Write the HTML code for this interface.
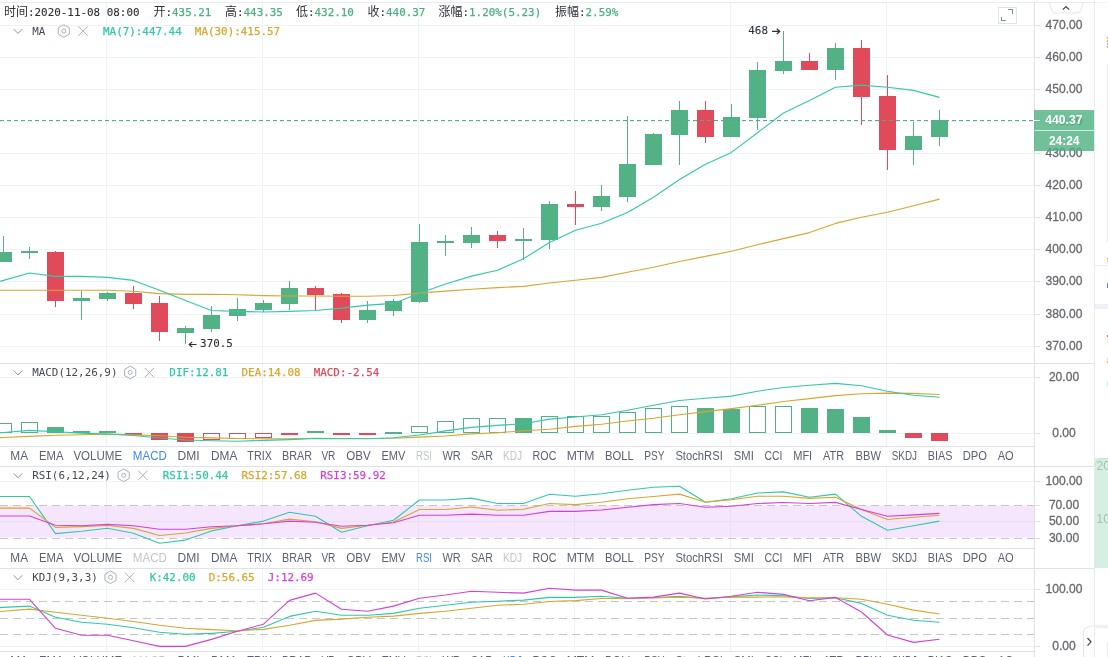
<!DOCTYPE html>
<html lang="zh-CN"><head><meta charset="utf-8"><title>K线图</title>
<style>html,body{margin:0;padding:0;background:#fff;overflow:hidden}body{width:1108px;height:657px;position:relative}svg{position:absolute;left:0;top:0;display:block}text{white-space:pre}.c{shape-rendering:crispEdges}</style></head><body>
<svg width="1108" height="657" viewBox="0 0 1108 657">
<rect width="1108" height="657" fill="#fff"/>
<g class="c">
<rect x="106" y="3" width="1" height="654" fill="#eef3f7"/>
<rect x="262" y="3" width="1" height="654" fill="#eef3f7"/>
<rect x="418" y="3" width="1" height="654" fill="#eef3f7"/>
<rect x="574" y="3" width="1" height="654" fill="#eef3f7"/>
<rect x="730" y="3" width="1" height="654" fill="#eef3f7"/>
<rect x="886" y="3" width="1" height="654" fill="#eef3f7"/>
<rect x="0" y="25" width="1034" height="1" fill="#eef3f7"/>
<rect x="0" y="57" width="1034" height="1" fill="#eef3f7"/>
<rect x="0" y="89" width="1034" height="1" fill="#eef3f7"/>
<rect x="0" y="121" width="1034" height="1" fill="#eef3f7"/>
<rect x="0" y="153" width="1034" height="1" fill="#eef3f7"/>
<rect x="0" y="185" width="1034" height="1" fill="#eef3f7"/>
<rect x="0" y="217" width="1034" height="1" fill="#eef3f7"/>
<rect x="0" y="249" width="1034" height="1" fill="#eef3f7"/>
<rect x="0" y="281" width="1034" height="1" fill="#eef3f7"/>
<rect x="0" y="314" width="1034" height="1" fill="#eef3f7"/>
<rect x="0" y="346" width="1034" height="1" fill="#eef3f7"/>
<rect x="0" y="377" width="1034" height="1" fill="#eef3f7"/>
<rect x="0" y="433" width="1034" height="1" fill="#eef3f7"/>
<rect x="0" y="481" width="1034" height="1" fill="#eef3f7"/>
<rect x="0" y="521" width="1034" height="1" fill="#eef3f7"/>
<rect x="0" y="589" width="1034" height="1" fill="#eef3f7"/>
<rect x="0" y="646" width="1034" height="1" fill="#eef3f7"/>
</g>
<rect x="0" y="505.5" width="1034" height="32" fill="#f5e6fd"/>
<g class="c"><rect x="0" y="521" width="1034" height="1" fill="#e9dff3"/>
<rect x="106" y="506" width="1" height="32" fill="#e6dff1"/>
<rect x="262" y="506" width="1" height="32" fill="#e6dff1"/>
<rect x="418" y="506" width="1" height="32" fill="#e6dff1"/>
<rect x="574" y="506" width="1" height="32" fill="#e6dff1"/>
<rect x="730" y="506" width="1" height="32" fill="#e6dff1"/>
<rect x="886" y="506" width="1" height="32" fill="#e6dff1"/>
</g>
<line x1="0" y1="505.5" x2="1034" y2="505.5" stroke="#c6c6ca" stroke-width="1" stroke-dasharray="8 5" class="c"/>
<line x1="0" y1="538.5" x2="1034" y2="538.5" stroke="#c6c6ca" stroke-width="1" stroke-dasharray="8 5" class="c"/>
<line x1="0" y1="601.5" x2="1034" y2="601.5" stroke="#c6c6ca" stroke-width="1" stroke-dasharray="8 5" class="c"/>
<line x1="0" y1="618.5" x2="1034" y2="618.5" stroke="#c6c6ca" stroke-width="1" stroke-dasharray="8 5" class="c"/>
<line x1="0" y1="634.5" x2="1034" y2="634.5" stroke="#c6c6ca" stroke-width="1" stroke-dasharray="8 5" class="c"/>
<g class="c">
<rect x="3" y="236" width="1" height="26" fill="#52b285"/>
<rect x="-5" y="252" width="17" height="10" fill="#52b285"/>
<rect x="29" y="247" width="1" height="12" fill="#52b285"/>
<rect x="21" y="251" width="17" height="2" fill="#52b285"/>
<rect x="55" y="251" width="1" height="56" fill="#e04a5a"/>
<rect x="47" y="252" width="17" height="49" fill="#e04a5a"/>
<rect x="81" y="291" width="1" height="29" fill="#52b285"/>
<rect x="73" y="298" width="17" height="3" fill="#52b285"/>
<rect x="107" y="292" width="1" height="9" fill="#52b285"/>
<rect x="99" y="293" width="17" height="6" fill="#52b285"/>
<rect x="133" y="286" width="1" height="23" fill="#e04a5a"/>
<rect x="125" y="293" width="17" height="11" fill="#e04a5a"/>
<rect x="159" y="296" width="1" height="45" fill="#e04a5a"/>
<rect x="151" y="303" width="17" height="29" fill="#e04a5a"/>
<rect x="185" y="326" width="1" height="18" fill="#52b285"/>
<rect x="177" y="328" width="17" height="5" fill="#52b285"/>
<rect x="211" y="306" width="1" height="26" fill="#52b285"/>
<rect x="203" y="315" width="17" height="14" fill="#52b285"/>
<rect x="237" y="298" width="1" height="23" fill="#52b285"/>
<rect x="229" y="309" width="17" height="7" fill="#52b285"/>
<rect x="263" y="300" width="1" height="12" fill="#52b285"/>
<rect x="255" y="303" width="17" height="7" fill="#52b285"/>
<rect x="289" y="281" width="1" height="29" fill="#52b285"/>
<rect x="281" y="288" width="17" height="16" fill="#52b285"/>
<rect x="315" y="286" width="1" height="25" fill="#e04a5a"/>
<rect x="307" y="288" width="17" height="7" fill="#e04a5a"/>
<rect x="341" y="293" width="1" height="30" fill="#e04a5a"/>
<rect x="333" y="294" width="17" height="26" fill="#e04a5a"/>
<rect x="367" y="301" width="1" height="22" fill="#52b285"/>
<rect x="359" y="310" width="17" height="10" fill="#52b285"/>
<rect x="393" y="299" width="1" height="17" fill="#52b285"/>
<rect x="385" y="301" width="17" height="10" fill="#52b285"/>
<rect x="419" y="224" width="1" height="79" fill="#52b285"/>
<rect x="411" y="242" width="17" height="60" fill="#52b285"/>
<rect x="445" y="235" width="1" height="21" fill="#52b285"/>
<rect x="437" y="241" width="17" height="2" fill="#52b285"/>
<rect x="471" y="227" width="1" height="21" fill="#52b285"/>
<rect x="463" y="235" width="17" height="8" fill="#52b285"/>
<rect x="497" y="231" width="1" height="17" fill="#e04a5a"/>
<rect x="489" y="235" width="17" height="6" fill="#e04a5a"/>
<rect x="523" y="228" width="1" height="32" fill="#52b285"/>
<rect x="515" y="239" width="17" height="2" fill="#52b285"/>
<rect x="549" y="201" width="1" height="48" fill="#52b285"/>
<rect x="541" y="204" width="17" height="36" fill="#52b285"/>
<rect x="575" y="191" width="1" height="34" fill="#e04a5a"/>
<rect x="567" y="204" width="17" height="3" fill="#e04a5a"/>
<rect x="601" y="185" width="1" height="26" fill="#52b285"/>
<rect x="593" y="196" width="17" height="11" fill="#52b285"/>
<rect x="627" y="116" width="1" height="86" fill="#52b285"/>
<rect x="619" y="164" width="17" height="33" fill="#52b285"/>
<rect x="653" y="133" width="1" height="32" fill="#52b285"/>
<rect x="645" y="134" width="17" height="31" fill="#52b285"/>
<rect x="679" y="101" width="1" height="64" fill="#52b285"/>
<rect x="671" y="110" width="17" height="25" fill="#52b285"/>
<rect x="705" y="101" width="1" height="42" fill="#e04a5a"/>
<rect x="697" y="110" width="17" height="27" fill="#e04a5a"/>
<rect x="731" y="104" width="1" height="33" fill="#52b285"/>
<rect x="723" y="117" width="17" height="20" fill="#52b285"/>
<rect x="757" y="62" width="1" height="68" fill="#52b285"/>
<rect x="749" y="70" width="17" height="48" fill="#52b285"/>
<rect x="783" y="31" width="1" height="43" fill="#52b285"/>
<rect x="775" y="61" width="17" height="10" fill="#52b285"/>
<rect x="809" y="53" width="1" height="17" fill="#e04a5a"/>
<rect x="801" y="61" width="17" height="9" fill="#e04a5a"/>
<rect x="835" y="43" width="1" height="37" fill="#52b285"/>
<rect x="827" y="48" width="17" height="22" fill="#52b285"/>
<rect x="861" y="40" width="1" height="85" fill="#e04a5a"/>
<rect x="853" y="48" width="17" height="49" fill="#e04a5a"/>
<rect x="887" y="75" width="1" height="95" fill="#e04a5a"/>
<rect x="879" y="96" width="17" height="54" fill="#e04a5a"/>
<rect x="913" y="122" width="1" height="43" fill="#52b285"/>
<rect x="905" y="136" width="17" height="14" fill="#52b285"/>
<rect x="939" y="110" width="1" height="36" fill="#52b285"/>
<rect x="931" y="120" width="17" height="17" fill="#52b285"/>
</g>
<polyline points="-22.5,290.3 3.5,290.3 29.5,290.3 55.5,290.3 81.5,290.3 107.5,290.3 133.5,291.3 159.5,293.6 185.5,294.4 211.5,294.2 237.5,294.8 263.5,295.6 289.5,296 315.5,296 341.5,296.2 367.5,296.2 393.5,295.5 419.5,293.1 445.5,291.1 471.5,289.2 497.5,287.6 523.5,286.4 549.5,283 575.5,280.3 601.5,277.4 627.5,272.3 653.5,267.3 679.5,261.5 705.5,256.4 731.5,251.2 757.5,244.7 783.5,238.6 809.5,232.6 835.5,223.4 861.5,217.3 887.5,212.3 913.5,205.8 939.5,199.1" fill="none" stroke="#d6a730" stroke-width="1.1" stroke-linejoin="round"/>
<polyline points="-22.5,287.8 3.5,280.4 29.5,273 55.5,276.4 81.5,276.4 107.5,277.4 133.5,280.4 159.5,290.3 185.5,300.5 211.5,310.5 237.5,311.4 263.5,312 289.5,311.4 315.5,310.5 341.5,308.1 367.5,305.1 393.5,303.4 419.5,293.3 445.5,284 471.5,276.1 497.5,270.2 523.5,258.7 549.5,242.5 575.5,230.2 601.5,223.2 627.5,212.5 653.5,197.3 679.5,179.5 705.5,164.2 731.5,152.4 757.5,132.8 783.5,113 809.5,100.5 835.5,87.3 861.5,85.1 887.5,87.3 913.5,90.4 939.5,97.4" fill="none" stroke="#30c9a7" stroke-width="1.1" stroke-linejoin="round"/>
<line x1="0" y1="120.5" x2="1040" y2="120.5" stroke="#4db081" stroke-width="1" stroke-dasharray="4 3" class="c"/>
<g class="c">
<rect x="-4.5" y="423.5" width="16" height="9" fill="none" stroke="#52b285" stroke-width="1"/>
<rect x="21.5" y="422.5" width="16" height="10" fill="none" stroke="#52b285" stroke-width="1"/>
<rect x="47" y="427" width="17" height="6" fill="#52b285"/>
<rect x="73" y="431" width="17" height="2" fill="#52b285"/>
<rect x="99" y="431" width="17" height="2" fill="#52b285"/>
<rect x="125" y="433" width="17" height="2" fill="#e04a5a"/>
<rect x="151" y="433" width="17" height="7" fill="#e04a5a"/>
<rect x="177" y="433" width="17" height="9" fill="#e04a5a"/>
<rect x="203.5" y="433.5" width="16" height="6" fill="none" stroke="#e04a5a" stroke-width="1"/>
<rect x="229.5" y="433.5" width="16" height="5" fill="none" stroke="#e04a5a" stroke-width="1"/>
<rect x="255.5" y="433.5" width="16" height="4" fill="none" stroke="#e04a5a" stroke-width="1"/>
<rect x="281" y="433" width="17" height="2" fill="#e04a5a"/>
<rect x="307" y="431" width="17" height="2" fill="#52b285"/>
<rect x="333" y="433" width="17" height="2" fill="#e04a5a"/>
<rect x="359" y="433" width="17" height="2" fill="#e04a5a"/>
<rect x="385" y="432" width="17" height="2" fill="#52b285"/>
<rect x="411.5" y="426.5" width="16" height="6" fill="none" stroke="#52b285" stroke-width="1"/>
<rect x="437.5" y="421.5" width="16" height="11" fill="none" stroke="#52b285" stroke-width="1"/>
<rect x="463.5" y="418.5" width="16" height="14" fill="none" stroke="#52b285" stroke-width="1"/>
<rect x="489.5" y="418.5" width="16" height="14" fill="none" stroke="#52b285" stroke-width="1"/>
<rect x="515" y="418" width="17" height="15" fill="#52b285"/>
<rect x="541.5" y="416.5" width="16" height="16" fill="none" stroke="#52b285" stroke-width="1"/>
<rect x="567.5" y="416.5" width="16" height="16" fill="none" stroke="#52b285" stroke-width="1"/>
<rect x="593.5" y="416.5" width="16" height="16" fill="none" stroke="#52b285" stroke-width="1"/>
<rect x="619.5" y="412.5" width="16" height="20" fill="none" stroke="#52b285" stroke-width="1"/>
<rect x="645.5" y="408.5" width="16" height="24" fill="none" stroke="#52b285" stroke-width="1"/>
<rect x="671.5" y="406.5" width="16" height="26" fill="none" stroke="#52b285" stroke-width="1"/>
<rect x="697" y="408" width="17" height="25" fill="#52b285"/>
<rect x="723" y="409" width="17" height="24" fill="#52b285"/>
<rect x="749.5" y="406.5" width="16" height="26" fill="none" stroke="#52b285" stroke-width="1"/>
<rect x="775.5" y="406.5" width="16" height="26" fill="none" stroke="#52b285" stroke-width="1"/>
<rect x="801" y="408" width="17" height="25" fill="#52b285"/>
<rect x="827" y="409" width="17" height="24" fill="#52b285"/>
<rect x="853" y="417" width="17" height="16" fill="#52b285"/>
<rect x="879" y="430" width="17" height="3" fill="#52b285"/>
<rect x="905" y="433" width="17" height="5" fill="#e04a5a"/>
<rect x="931" y="433" width="17" height="8" fill="#e04a5a"/>
</g>
<polyline points="-22.5,438.6 3.5,437.5 29.5,436.4 55.5,435.3 81.5,434.7 107.5,434.1 133.5,434.9 159.5,435.8 185.5,437.3 211.5,437.9 237.5,438.5 263.5,438.8 289.5,438.8 315.5,438.2 341.5,438.5 367.5,438.5 393.5,438.2 419.5,437.1 445.5,436 471.5,433.9 497.5,432.7 523.5,430.8 549.5,429.2 575.5,426.4 601.5,424.3 627.5,421 653.5,418.3 679.5,414.8 705.5,411.6 731.5,408.6 757.5,405.3 783.5,401.5 809.5,398.6 835.5,395.6 861.5,393.7 887.5,393.1 913.5,393.4 939.5,394.5" fill="none" stroke="#d6a730" stroke-width="1.1" stroke-linejoin="round"/>
<polyline points="-22.5,434.6 3.5,432.5 29.5,430.4 55.5,431.8 81.5,433.1 107.5,434 133.5,435.5 159.5,438 185.5,440 211.5,440.8 237.5,441.2 263.5,440.4 289.5,439.6 315.5,438.5 341.5,438.8 367.5,438.8 393.5,437.7 419.5,435 445.5,430.9 471.5,427.4 497.5,425.4 523.5,423.7 549.5,419.1 575.5,417 601.5,414.8 627.5,410.2 653.5,405.3 679.5,400.5 705.5,398.3 731.5,396.1 757.5,391.2 783.5,387.5 809.5,385.3 835.5,383.4 861.5,385.8 887.5,391.2 913.5,395.3 939.5,397.3" fill="none" stroke="#30c9a7" stroke-width="1.1" stroke-linejoin="round"/>
<polyline points="-22.5,496.5 3.5,496.5 29.5,496.5 55.5,533.6 81.5,531.2 107.5,528.2 133.5,533.3 159.5,543.3 185.5,540.1 211.5,530.9 237.5,525.7 263.5,521.1 289.5,512.2 315.5,516.3 341.5,532.2 367.5,525.7 393.5,520.3 419.5,500 445.5,500 471.5,498.1 497.5,503.5 523.5,503.5 549.5,494.3 575.5,496.2 601.5,493.8 627.5,490.3 653.5,487.3 679.5,486.2 705.5,502.2 731.5,498.7 757.5,493 783.5,491.9 809.5,497.3 835.5,494.1 861.5,516.3 887.5,530.3 913.5,525.7 939.5,521.1" fill="none" stroke="#30c9a7" stroke-width="1.1" stroke-linejoin="round"/>
<polyline points="-22.5,508.1 3.5,508.1 29.5,508.1 55.5,527.4 81.5,526.6 107.5,525.5 133.5,528.4 159.5,535.5 185.5,533 211.5,528.4 237.5,525.7 263.5,523.8 289.5,519.1 315.5,521.7 341.5,528.4 367.5,525.2 393.5,522 419.5,509.5 445.5,509.5 471.5,507 497.5,510.3 523.5,509.2 549.5,503.5 575.5,504.6 601.5,502.2 627.5,498.7 653.5,496.5 679.5,494.1 705.5,502.2 731.5,499.7 757.5,496.2 783.5,496.2 809.5,498.4 835.5,497.3 861.5,509.5 887.5,519.5 913.5,517.3 939.5,515.2" fill="none" stroke="#d6a730" stroke-width="1.1" stroke-linejoin="round"/>
<polyline points="-22.5,516 3.5,516 29.5,516 55.5,525.2 81.5,525.7 107.5,524.4 133.5,525.7 159.5,529.3 185.5,529.3 211.5,526.8 237.5,525.7 263.5,523.8 289.5,521.1 315.5,522.2 341.5,526.3 367.5,525.2 393.5,522.8 419.5,515.2 445.5,515.2 471.5,514.1 497.5,515.2 523.5,515.2 549.5,511.4 575.5,511.4 601.5,510 627.5,507.3 653.5,504.6 679.5,503.5 705.5,507.3 731.5,506.2 757.5,503.5 783.5,502.5 809.5,503.5 835.5,502.4 861.5,509.5 887.5,516.3 913.5,514.9 939.5,513.4" fill="none" stroke="#d53fd8" stroke-width="1.1" stroke-linejoin="round"/>
<polyline points="-22.5,608.7 3.5,607.4 29.5,606.1 55.5,617.2 81.5,622.3 107.5,624.2 133.5,627.7 159.5,632.3 185.5,634.2 211.5,633.4 237.5,631.3 263.5,627.2 289.5,616.4 315.5,611.2 341.5,615.3 367.5,615.3 393.5,613.4 419.5,608.2 445.5,605.3 471.5,602.3 497.5,601.2 523.5,600.1 549.5,597.4 575.5,597.4 601.5,596.3 627.5,598.2 653.5,597.7 679.5,596.3 705.5,598.5 731.5,596.9 757.5,595 783.5,595.8 809.5,598.5 835.5,597.7 861.5,603.4 887.5,615.3 913.5,620.2 939.5,622.3" fill="none" stroke="#30c9a7" stroke-width="1.1" stroke-linejoin="round"/>
<polyline points="-22.5,613.3 3.5,611.2 29.5,609.1 55.5,612.3 81.5,615.3 107.5,618.3 133.5,621.5 159.5,625.3 185.5,628.3 211.5,629.6 237.5,630.7 263.5,629.4 289.5,625.3 315.5,620.4 341.5,619.1 367.5,617.2 393.5,616.1 419.5,613.4 445.5,611.2 471.5,608.2 497.5,605.3 523.5,604.2 549.5,601.5 575.5,600.6 601.5,598.5 627.5,598.5 653.5,598 679.5,597.1 705.5,598.2 731.5,597.1 757.5,597.1 783.5,596.9 809.5,597.7 835.5,597.7 861.5,599.3 887.5,604.2 913.5,610.1 939.5,614" fill="none" stroke="#d6a730" stroke-width="1.1" stroke-linejoin="round"/>
<polyline points="-22.5,599.3 3.5,599.3 29.5,599.3 55.5,628.3 81.5,635.3 107.5,635.3 133.5,640.7 159.5,646.4 185.5,646.4 211.5,639.4 237.5,631.3 263.5,624.2 289.5,600.4 315.5,593.1 341.5,609.3 367.5,611.2 393.5,606.1 419.5,598.2 445.5,595 471.5,591.2 497.5,592.3 523.5,593.1 549.5,588.2 575.5,590.1 601.5,590.1 627.5,598.2 653.5,597.1 679.5,593.1 705.5,599 731.5,596.3 757.5,592.3 783.5,594.4 809.5,600.7 835.5,597.4 861.5,612 887.5,635 913.5,642.4 939.5,639.2" fill="none" stroke="#d53fd8" stroke-width="1.1" stroke-linejoin="round"/>
<g class="c">
<rect x="0" y="446" width="1034" height="20" fill="#fff"/>
<rect x="0" y="446" width="1034" height="1" fill="#dee2e8"/>
<rect x="0" y="548" width="1034" height="20" fill="#fff"/>
<rect x="0" y="548" width="1034" height="1" fill="#dee2e8"/>
<rect x="0" y="651" width="1034" height="20" fill="#fff"/>
<rect x="0" y="651" width="1034" height="1" fill="#dee2e8"/>
</g>
<g class="c">
<rect x="1035" y="3" width="59" height="654" fill="#fff"/>
<rect x="0" y="2" width="1094" height="1" fill="#e9ecef"/>
<rect x="1094" y="2" width="14" height="1" fill="#f0f2f5"/>
<rect x="1034" y="3" width="1" height="654" fill="#dee2e8"/>
<rect x="1094" y="0" width="1" height="657" fill="#e8ebee"/>
<rect x="0" y="363" width="1094" height="1" fill="#dee2e8"/>
<rect x="0" y="466" width="1094" height="1" fill="#dee2e8"/>
<rect x="0" y="568" width="1094" height="1" fill="#dee2e8"/>
<rect x="1035" y="25" width="5" height="1" fill="#dee2e8"/>
<rect x="1035" y="57" width="5" height="1" fill="#dee2e8"/>
<rect x="1035" y="89" width="5" height="1" fill="#dee2e8"/>
<rect x="1035" y="121" width="5" height="1" fill="#dee2e8"/>
<rect x="1035" y="153" width="5" height="1" fill="#dee2e8"/>
<rect x="1035" y="185" width="5" height="1" fill="#dee2e8"/>
<rect x="1035" y="217" width="5" height="1" fill="#dee2e8"/>
<rect x="1035" y="249" width="5" height="1" fill="#dee2e8"/>
<rect x="1035" y="281" width="5" height="1" fill="#dee2e8"/>
<rect x="1035" y="314" width="5" height="1" fill="#dee2e8"/>
<rect x="1035" y="346" width="5" height="1" fill="#dee2e8"/>
<rect x="1035" y="377" width="5" height="1" fill="#dee2e8"/>
<rect x="1035" y="433" width="5" height="1" fill="#dee2e8"/>
<rect x="1035" y="481" width="5" height="1" fill="#dee2e8"/>
<rect x="1035" y="505" width="5" height="1" fill="#dee2e8"/>
<rect x="1035" y="521" width="5" height="1" fill="#dee2e8"/>
<rect x="1035" y="538" width="5" height="1" fill="#dee2e8"/>
<rect x="1035" y="589" width="5" height="1" fill="#dee2e8"/>
<rect x="1035" y="646" width="5" height="1" fill="#dee2e8"/>
</g>
<text x="1045.55" y="28.9" fill="#666a70" font-size="12.5" font-family="'Liberation Sans','Noto Sans CJK SC',sans-serif" textLength="36.9" lengthAdjust="spacingAndGlyphs" stroke="#666a70" stroke-width="0.3">470.00</text>
<text x="1045.55" y="60.9" fill="#666a70" font-size="12.5" font-family="'Liberation Sans','Noto Sans CJK SC',sans-serif" textLength="36.9" lengthAdjust="spacingAndGlyphs" stroke="#666a70" stroke-width="0.3">460.00</text>
<text x="1045.55" y="92.9" fill="#666a70" font-size="12.5" font-family="'Liberation Sans','Noto Sans CJK SC',sans-serif" textLength="36.9" lengthAdjust="spacingAndGlyphs" stroke="#666a70" stroke-width="0.3">450.00</text>
<text x="1045.55" y="124.9" fill="#666a70" font-size="12.5" font-family="'Liberation Sans','Noto Sans CJK SC',sans-serif" textLength="36.9" lengthAdjust="spacingAndGlyphs" stroke="#666a70" stroke-width="0.3">440.00</text>
<text x="1045.55" y="156.9" fill="#666a70" font-size="12.5" font-family="'Liberation Sans','Noto Sans CJK SC',sans-serif" textLength="36.9" lengthAdjust="spacingAndGlyphs" stroke="#666a70" stroke-width="0.3">430.00</text>
<text x="1045.55" y="188.9" fill="#666a70" font-size="12.5" font-family="'Liberation Sans','Noto Sans CJK SC',sans-serif" textLength="36.9" lengthAdjust="spacingAndGlyphs" stroke="#666a70" stroke-width="0.3">420.00</text>
<text x="1045.55" y="220.9" fill="#666a70" font-size="12.5" font-family="'Liberation Sans','Noto Sans CJK SC',sans-serif" textLength="36.9" lengthAdjust="spacingAndGlyphs" stroke="#666a70" stroke-width="0.3">410.00</text>
<text x="1045.55" y="252.9" fill="#666a70" font-size="12.5" font-family="'Liberation Sans','Noto Sans CJK SC',sans-serif" textLength="36.9" lengthAdjust="spacingAndGlyphs" stroke="#666a70" stroke-width="0.3">400.00</text>
<text x="1045.55" y="284.9" fill="#666a70" font-size="12.5" font-family="'Liberation Sans','Noto Sans CJK SC',sans-serif" textLength="36.9" lengthAdjust="spacingAndGlyphs" stroke="#666a70" stroke-width="0.3">390.00</text>
<text x="1045.55" y="317.9" fill="#666a70" font-size="12.5" font-family="'Liberation Sans','Noto Sans CJK SC',sans-serif" textLength="36.9" lengthAdjust="spacingAndGlyphs" stroke="#666a70" stroke-width="0.3">380.00</text>
<text x="1045.55" y="349.9" fill="#666a70" font-size="12.5" font-family="'Liberation Sans','Noto Sans CJK SC',sans-serif" textLength="36.9" lengthAdjust="spacingAndGlyphs" stroke="#666a70" stroke-width="0.3">370.00</text>
<text x="1048.9" y="380.9" fill="#666a70" font-size="12.5" font-family="'Liberation Sans','Noto Sans CJK SC',sans-serif" textLength="30.2" lengthAdjust="spacingAndGlyphs" stroke="#666a70" stroke-width="0.3">20.00</text>
<text x="1052.25" y="436.9" fill="#666a70" font-size="12.5" font-family="'Liberation Sans','Noto Sans CJK SC',sans-serif" textLength="23.5" lengthAdjust="spacingAndGlyphs" stroke="#666a70" stroke-width="0.3">0.00</text>
<text x="1045.55" y="484.9" fill="#666a70" font-size="12.5" font-family="'Liberation Sans','Noto Sans CJK SC',sans-serif" textLength="36.9" lengthAdjust="spacingAndGlyphs" stroke="#666a70" stroke-width="0.3">100.00</text>
<text x="1048.9" y="508.9" fill="#666a70" font-size="12.5" font-family="'Liberation Sans','Noto Sans CJK SC',sans-serif" textLength="30.2" lengthAdjust="spacingAndGlyphs" stroke="#666a70" stroke-width="0.3">70.00</text>
<text x="1048.9" y="524.9" fill="#666a70" font-size="12.5" font-family="'Liberation Sans','Noto Sans CJK SC',sans-serif" textLength="30.2" lengthAdjust="spacingAndGlyphs" stroke="#666a70" stroke-width="0.3">50.00</text>
<text x="1048.9" y="541.9" fill="#666a70" font-size="12.5" font-family="'Liberation Sans','Noto Sans CJK SC',sans-serif" textLength="30.2" lengthAdjust="spacingAndGlyphs" stroke="#666a70" stroke-width="0.3">30.00</text>
<text x="1045.55" y="592.9" fill="#666a70" font-size="12.5" font-family="'Liberation Sans','Noto Sans CJK SC',sans-serif" textLength="36.9" lengthAdjust="spacingAndGlyphs" stroke="#666a70" stroke-width="0.3">100.00</text>
<text x="1052.25" y="649.9" fill="#666a70" font-size="12.5" font-family="'Liberation Sans','Noto Sans CJK SC',sans-serif" textLength="23.5" lengthAdjust="spacingAndGlyphs" stroke="#666a70" stroke-width="0.3">0.00</text>
<rect x="1034" y="110" width="60" height="20" fill="#4db081" fill-opacity="0.8" class="c"/>
<rect x="1034" y="130" width="60" height="1" fill="#4db081" fill-opacity="0.25" class="c"/>
<rect x="1034" y="131" width="60" height="20" fill="#4db081" fill-opacity="0.8" class="c"/>
<rect x="1034" y="120" width="6" height="1" fill="#fff" class="c"/>
<text x="1045.3" y="123.8" fill="#fff" font-size="12" font-family="'Liberation Sans','Noto Sans CJK SC',sans-serif" textLength="37.2" lengthAdjust="spacingAndGlyphs" font-weight="bold">440.37</text>
<text x="1048.9" y="144.7" fill="#fff" font-size="12" font-family="'Liberation Sans','Noto Sans CJK SC',sans-serif" textLength="30.6" lengthAdjust="spacingAndGlyphs" font-weight="bold">24:24</text>
<path d="M1049.3 3 L1051.8 10.5 Q1052.6 13 1055.5 13 L1077 13 Q1079.9 13 1080.7 10.5 L1083.2 3" fill="#fff" stroke="#e4e7ec" stroke-width="1"/>
<polyline points="1062.8,9.6 1066,6.6 1069.2,9.6" fill="none" stroke="#40444f" stroke-width="1.3"/>
<rect x="998.5" y="7.5" width="18" height="16" fill="#fff" stroke="#dfe3ea" stroke-width="1" class="c"/>
<path d="M1008 9.5 H1012.5 V14 M1001.5 16.5 V20.5 H1006" fill="none" stroke="#7f89a2" stroke-width="1" class="c"/>
<path d="M1094 625.5 L1088 627 Q1083.5 628 1083.5 633 L1083.5 657" fill="#fff" stroke="#e1e4ea" stroke-width="1"/>
<polyline points="1087.5,638 1091,641.8 1087.5,645.6" fill="none" stroke="#40444f" stroke-width="1.2"/>
<rect x="1095" y="458" width="13" height="110" fill="#d5efe2"/>
<path d="M1095 466 Q1095 458.5 1103 458.5 L1108 458.5" fill="none" stroke="#bfe5d1" stroke-width="1"/>
<text x="1096.5" y="469.5" fill="#9fc5b3" font-size="12" font-family="'Liberation Sans','Noto Sans CJK SC',sans-serif">20</text>
<text x="1096.5" y="522.5" fill="#9fc5b3" font-size="12" font-family="'Liberation Sans','Noto Sans CJK SC',sans-serif">10</text>
<g class="c">
<rect x="1107" y="64" width="1" height="178" fill="#e6e8ee"/>
<rect x="1095" y="265" width="13" height="1" fill="#e8eaf0"/>
<rect x="1095" y="304" width="13" height="5" fill="#eef0f5"/>
<rect x="1095" y="625" width="13" height="3" fill="#eef0f5"/>
<rect x="1107" y="642" width="1" height="15" fill="#e6e8ee"/>
<rect x="1107" y="37" width="1" height="2" fill="#f0a23a"/>
<rect x="1107" y="40" width="1" height="2" fill="#f0a23a"/>
<rect x="1107" y="43" width="1" height="2" fill="#f0a23a"/>
<rect x="1107" y="46" width="1" height="2" fill="#f0a23a"/>
<rect x="1107" y="258" width="1" height="2" fill="#f5b050"/>
<rect x="1107" y="261" width="1" height="1" fill="#f5b050"/>
<rect x="1107" y="283" width="1" height="5" fill="#4a8af4"/>
<rect x="1107" y="335" width="1" height="2" fill="#e8604c"/>
<rect x="1107" y="338" width="1" height="2" fill="#fbe7a2"/>
<rect x="1107" y="341" width="1" height="1" fill="#fbe7a2"/>
<rect x="1107" y="358" width="1" height="2" fill="#fbd7a0"/>
<rect x="1107" y="361" width="1" height="2" fill="#f5a94a"/>
<rect x="1107" y="381" width="1" height="6" fill="#d9efe8"/>
</g>
<polyline points="13.8,29.1 18,33.5 22.2,29.1" fill="none" stroke="#8b93a7" stroke-width="1"/>
<text x="32.2" y="34.8" fill="#454952" font-size="10.8" font-family="'DejaVu Sans Mono','Liberation Mono','Noto Sans CJK SC',monospace" textLength="13.12" lengthAdjust="spacingAndGlyphs">MA</text>
<polygon points="63.82,24.70 58.25,27.85 58.25,34.15 63.82,37.30 69.39,34.15 69.39,27.85" fill="none" stroke="#aab0bf" stroke-width="1" stroke-linejoin="round"/>
<circle cx="63.82" cy="31" r="2" fill="none" stroke="#aab0bf" stroke-width="1"/>
<path d="M78.32 26.4 L87.72 35.8 M87.72 26.4 L78.32 35.8" fill="none" stroke="#aab0bf" stroke-width="1"/>
<text x="103.02" y="34.8" fill="#30c9a7" font-size="10.8" font-family="'DejaVu Sans Mono','Liberation Mono','Noto Sans CJK SC',monospace" textLength="78.72" lengthAdjust="spacingAndGlyphs" stroke="#30c9a7" stroke-width="0.25">MA(7):447.44</text>
<text x="194.86" y="34.8" fill="#d6a730" font-size="10.8" font-family="'DejaVu Sans Mono','Liberation Mono','Noto Sans CJK SC',monospace" textLength="85.28" lengthAdjust="spacingAndGlyphs" stroke="#d6a730" stroke-width="0.25">MA(30):415.57</text>
<polyline points="13.8,370.6 18,375 22.2,370.6" fill="none" stroke="#8b93a7" stroke-width="1"/>
<text x="32.2" y="376.3" fill="#454952" font-size="10.8" font-family="'DejaVu Sans Mono','Liberation Mono','Noto Sans CJK SC',monospace" textLength="85.28" lengthAdjust="spacingAndGlyphs">MACD(12,26,9)</text>
<polygon points="130.18,366.20 124.61,369.35 124.61,375.65 130.18,378.80 135.75,375.65 135.75,369.35" fill="none" stroke="#aab0bf" stroke-width="1" stroke-linejoin="round"/>
<circle cx="130.18" cy="372.5" r="2" fill="none" stroke="#aab0bf" stroke-width="1"/>
<path d="M144.68 367.9 L154.08 377.3 M154.08 367.9 L144.68 377.3" fill="none" stroke="#aab0bf" stroke-width="1"/>
<text x="169.38" y="376.3" fill="#30c9a7" font-size="10.8" font-family="'DejaVu Sans Mono','Liberation Mono','Noto Sans CJK SC',monospace" textLength="59.04" lengthAdjust="spacingAndGlyphs" stroke="#30c9a7" stroke-width="0.25">DIF:12.81</text>
<text x="241.54" y="376.3" fill="#d6a730" font-size="10.8" font-family="'DejaVu Sans Mono','Liberation Mono','Noto Sans CJK SC',monospace" textLength="59.04" lengthAdjust="spacingAndGlyphs" stroke="#d6a730" stroke-width="0.25">DEA:14.08</text>
<text x="313.7" y="376.3" fill="#e04a5a" font-size="10.8" font-family="'DejaVu Sans Mono','Liberation Mono','Noto Sans CJK SC',monospace" textLength="65.6" lengthAdjust="spacingAndGlyphs" stroke="#e04a5a" stroke-width="0.25">MACD:-2.54</text>
<polyline points="13.8,473.4 18,477.8 22.2,473.4" fill="none" stroke="#8b93a7" stroke-width="1"/>
<text x="32.2" y="479.1" fill="#454952" font-size="10.8" font-family="'DejaVu Sans Mono','Liberation Mono','Noto Sans CJK SC',monospace" textLength="78.72" lengthAdjust="spacingAndGlyphs">RSI(6,12,24)</text>
<polygon points="123.62,469.00 118.05,472.15 118.05,478.45 123.62,481.60 129.19,478.45 129.19,472.15" fill="none" stroke="#aab0bf" stroke-width="1" stroke-linejoin="round"/>
<circle cx="123.62" cy="475.3" r="2" fill="none" stroke="#aab0bf" stroke-width="1"/>
<path d="M138.12 470.7 L147.52 480.1 M147.52 470.7 L138.12 480.1" fill="none" stroke="#aab0bf" stroke-width="1"/>
<text x="162.82" y="479.1" fill="#30c9a7" font-size="10.8" font-family="'DejaVu Sans Mono','Liberation Mono','Noto Sans CJK SC',monospace" textLength="65.6" lengthAdjust="spacingAndGlyphs" stroke="#30c9a7" stroke-width="0.25">RSI1:50.44</text>
<text x="241.54" y="479.1" fill="#d6a730" font-size="10.8" font-family="'DejaVu Sans Mono','Liberation Mono','Noto Sans CJK SC',monospace" textLength="65.6" lengthAdjust="spacingAndGlyphs" stroke="#d6a730" stroke-width="0.25">RSI2:57.68</text>
<text x="320.26" y="479.1" fill="#d53fd8" font-size="10.8" font-family="'DejaVu Sans Mono','Liberation Mono','Noto Sans CJK SC',monospace" textLength="65.6" lengthAdjust="spacingAndGlyphs" stroke="#d53fd8" stroke-width="0.25">RSI3:59.92</text>
<polyline points="13.8,575.4 18,579.8 22.2,575.4" fill="none" stroke="#8b93a7" stroke-width="1"/>
<text x="32.2" y="581.1" fill="#454952" font-size="10.8" font-family="'DejaVu Sans Mono','Liberation Mono','Noto Sans CJK SC',monospace" textLength="65.6" lengthAdjust="spacingAndGlyphs">KDJ(9,3,3)</text>
<polygon points="110.50,571.00 104.93,574.15 104.93,580.45 110.50,583.60 116.07,580.45 116.07,574.15" fill="none" stroke="#aab0bf" stroke-width="1" stroke-linejoin="round"/>
<circle cx="110.5" cy="577.3" r="2" fill="none" stroke="#aab0bf" stroke-width="1"/>
<path d="M125 572.7 L134.4 582.1 M134.4 572.7 L125 582.1" fill="none" stroke="#aab0bf" stroke-width="1"/>
<text x="149.7" y="581.1" fill="#30c9a7" font-size="10.8" font-family="'DejaVu Sans Mono','Liberation Mono','Noto Sans CJK SC',monospace" textLength="45.92" lengthAdjust="spacingAndGlyphs" stroke="#30c9a7" stroke-width="0.25">K:42.00</text>
<text x="208.74" y="581.1" fill="#d6a730" font-size="10.8" font-family="'DejaVu Sans Mono','Liberation Mono','Noto Sans CJK SC',monospace" textLength="45.92" lengthAdjust="spacingAndGlyphs" stroke="#d6a730" stroke-width="0.25">D:56.65</text>
<text x="267.78" y="581.1" fill="#d53fd8" font-size="10.8" font-family="'DejaVu Sans Mono','Liberation Mono','Noto Sans CJK SC',monospace" textLength="45.92" lengthAdjust="spacingAndGlyphs" stroke="#d53fd8" stroke-width="0.25">J:12.69</text>
<text x="4" y="16.3" fill="#2d3038" font-size="12" font-family="'Liberation Sans','Noto Sans CJK SC',sans-serif" textLength="24" lengthAdjust="spacingAndGlyphs">时间</text>
<text x="28" y="16" fill="#2d3038" font-size="10.8" font-family="'DejaVu Sans Mono','Liberation Mono','Noto Sans CJK SC',monospace" textLength="6.56" lengthAdjust="spacingAndGlyphs" stroke="#2d3038" stroke-width="0.1">:</text>
<text x="34.56" y="16" fill="#2d3038" font-size="10.8" font-family="'DejaVu Sans Mono','Liberation Mono','Noto Sans CJK SC',monospace" textLength="104.96" lengthAdjust="spacingAndGlyphs" stroke="#2d3038" stroke-width="0.1">2020-11-08 08:00</text>
<text x="153.5" y="16.3" fill="#2d3038" font-size="12" font-family="'Liberation Sans','Noto Sans CJK SC',sans-serif" textLength="12" lengthAdjust="spacingAndGlyphs">开</text>
<text x="165.5" y="16" fill="#2d3038" font-size="10.8" font-family="'DejaVu Sans Mono','Liberation Mono','Noto Sans CJK SC',monospace" textLength="6.56" lengthAdjust="spacingAndGlyphs" stroke="#2d3038" stroke-width="0.1">:</text>
<text x="172.06" y="16" fill="#4db081" font-size="10.8" font-family="'DejaVu Sans Mono','Liberation Mono','Noto Sans CJK SC',monospace" textLength="39.36" lengthAdjust="spacingAndGlyphs" stroke="#4db081" stroke-width="0.25">435.21</text>
<text x="225" y="16.3" fill="#2d3038" font-size="12" font-family="'Liberation Sans','Noto Sans CJK SC',sans-serif" textLength="12" lengthAdjust="spacingAndGlyphs">高</text>
<text x="237" y="16" fill="#2d3038" font-size="10.8" font-family="'DejaVu Sans Mono','Liberation Mono','Noto Sans CJK SC',monospace" textLength="6.56" lengthAdjust="spacingAndGlyphs" stroke="#2d3038" stroke-width="0.1">:</text>
<text x="243.56" y="16" fill="#4db081" font-size="10.8" font-family="'DejaVu Sans Mono','Liberation Mono','Noto Sans CJK SC',monospace" textLength="39.36" lengthAdjust="spacingAndGlyphs" stroke="#4db081" stroke-width="0.25">443.35</text>
<text x="296" y="16.3" fill="#2d3038" font-size="12" font-family="'Liberation Sans','Noto Sans CJK SC',sans-serif" textLength="12" lengthAdjust="spacingAndGlyphs">低</text>
<text x="308" y="16" fill="#2d3038" font-size="10.8" font-family="'DejaVu Sans Mono','Liberation Mono','Noto Sans CJK SC',monospace" textLength="6.56" lengthAdjust="spacingAndGlyphs" stroke="#2d3038" stroke-width="0.1">:</text>
<text x="314.56" y="16" fill="#4db081" font-size="10.8" font-family="'DejaVu Sans Mono','Liberation Mono','Noto Sans CJK SC',monospace" textLength="39.36" lengthAdjust="spacingAndGlyphs" stroke="#4db081" stroke-width="0.25">432.10</text>
<text x="367.5" y="16.3" fill="#2d3038" font-size="12" font-family="'Liberation Sans','Noto Sans CJK SC',sans-serif" textLength="12" lengthAdjust="spacingAndGlyphs">收</text>
<text x="379.5" y="16" fill="#2d3038" font-size="10.8" font-family="'DejaVu Sans Mono','Liberation Mono','Noto Sans CJK SC',monospace" textLength="6.56" lengthAdjust="spacingAndGlyphs" stroke="#2d3038" stroke-width="0.1">:</text>
<text x="386.06" y="16" fill="#4db081" font-size="10.8" font-family="'DejaVu Sans Mono','Liberation Mono','Noto Sans CJK SC',monospace" textLength="39.36" lengthAdjust="spacingAndGlyphs" stroke="#4db081" stroke-width="0.25">440.37</text>
<text x="438.5" y="16.3" fill="#2d3038" font-size="12" font-family="'Liberation Sans','Noto Sans CJK SC',sans-serif" textLength="24" lengthAdjust="spacingAndGlyphs">涨幅</text>
<text x="462.5" y="16" fill="#2d3038" font-size="10.8" font-family="'DejaVu Sans Mono','Liberation Mono','Noto Sans CJK SC',monospace" textLength="6.56" lengthAdjust="spacingAndGlyphs" stroke="#2d3038" stroke-width="0.1">:</text>
<text x="469.06" y="16" fill="#4db081" font-size="10.8" font-family="'DejaVu Sans Mono','Liberation Mono','Noto Sans CJK SC',monospace" textLength="72.16" lengthAdjust="spacingAndGlyphs" stroke="#4db081" stroke-width="0.25">1.20%(5.23)</text>
<text x="555" y="16.3" fill="#2d3038" font-size="12" font-family="'Liberation Sans','Noto Sans CJK SC',sans-serif" textLength="24" lengthAdjust="spacingAndGlyphs">振幅</text>
<text x="579" y="16" fill="#2d3038" font-size="10.8" font-family="'DejaVu Sans Mono','Liberation Mono','Noto Sans CJK SC',monospace" textLength="6.56" lengthAdjust="spacingAndGlyphs" stroke="#2d3038" stroke-width="0.1">:</text>
<text x="585.56" y="16" fill="#4db081" font-size="10.8" font-family="'DejaVu Sans Mono','Liberation Mono','Noto Sans CJK SC',monospace" textLength="32.8" lengthAdjust="spacingAndGlyphs" stroke="#4db081" stroke-width="0.25">2.59%</text>
<text x="748.3" y="33.9" fill="#2d3038" font-size="10.8" font-family="'DejaVu Sans Mono','Liberation Mono','Noto Sans CJK SC',monospace" textLength="19.68" lengthAdjust="spacingAndGlyphs" stroke="#2d3038" stroke-width="0.1">468</text>
<path d="M772 31.4 H779.6 M776.8 28.8 L779.7 31.4 L776.8 34" fill="none" stroke="#2d3038" stroke-width="1.2"/>
<text x="200.1" y="347" fill="#2d3038" font-size="10.8" font-family="'DejaVu Sans Mono','Liberation Mono','Noto Sans CJK SC',monospace" textLength="32.8" lengthAdjust="spacingAndGlyphs" stroke="#2d3038" stroke-width="0.1">370.5</text>
<path d="M196.5 344.5 H189.3 M192.2 341.9 L189.2 344.5 L192.2 347.1" fill="none" stroke="#2d3038" stroke-width="1.2"/>
<text x="10.3" y="459.8" fill="#5b6170" font-size="12" font-family="'Liberation Sans','Noto Sans CJK SC',sans-serif" textLength="17.7" lengthAdjust="spacingAndGlyphs">MA</text>
<text x="39" y="459.8" fill="#5b6170" font-size="12" font-family="'Liberation Sans','Noto Sans CJK SC',sans-serif" textLength="24.4" lengthAdjust="spacingAndGlyphs">EMA</text>
<text x="73.4" y="459.8" fill="#5b6170" font-size="12" font-family="'Liberation Sans','Noto Sans CJK SC',sans-serif" textLength="48.8" lengthAdjust="spacingAndGlyphs">VOLUME</text>
<text x="132.8" y="459.8" fill="#4285f4" font-size="12" font-family="'Liberation Sans','Noto Sans CJK SC',sans-serif" textLength="34.1" lengthAdjust="spacingAndGlyphs">MACD</text>
<text x="177.6" y="459.8" fill="#5b6170" font-size="12" font-family="'Liberation Sans','Noto Sans CJK SC',sans-serif" textLength="22" lengthAdjust="spacingAndGlyphs">DMI</text>
<text x="211" y="459.8" fill="#5b6170" font-size="12" font-family="'Liberation Sans','Noto Sans CJK SC',sans-serif" textLength="26.3" lengthAdjust="spacingAndGlyphs">DMA</text>
<text x="247.3" y="459.8" fill="#5b6170" font-size="12" font-family="'Liberation Sans','Noto Sans CJK SC',sans-serif" textLength="24.7" lengthAdjust="spacingAndGlyphs">TRIX</text>
<text x="282" y="459.8" fill="#5b6170" font-size="12" font-family="'Liberation Sans','Noto Sans CJK SC',sans-serif" textLength="30" lengthAdjust="spacingAndGlyphs">BRAR</text>
<text x="321.4" y="459.8" fill="#5b6170" font-size="12" font-family="'Liberation Sans','Noto Sans CJK SC',sans-serif" textLength="14" lengthAdjust="spacingAndGlyphs">VR</text>
<text x="346.3" y="459.8" fill="#5b6170" font-size="12" font-family="'Liberation Sans','Noto Sans CJK SC',sans-serif" textLength="24.4" lengthAdjust="spacingAndGlyphs">OBV</text>
<text x="381.4" y="459.8" fill="#5b6170" font-size="12" font-family="'Liberation Sans','Noto Sans CJK SC',sans-serif" textLength="24" lengthAdjust="spacingAndGlyphs">EMV</text>
<text x="416" y="459.8" fill="#c2c5cc" font-size="12" font-family="'Liberation Sans','Noto Sans CJK SC',sans-serif" textLength="16" lengthAdjust="spacingAndGlyphs">RSI</text>
<text x="442.5" y="459.8" fill="#5b6170" font-size="12" font-family="'Liberation Sans','Noto Sans CJK SC',sans-serif" textLength="18.3" lengthAdjust="spacingAndGlyphs">WR</text>
<text x="471" y="459.8" fill="#5b6170" font-size="12" font-family="'Liberation Sans','Noto Sans CJK SC',sans-serif" textLength="21.9" lengthAdjust="spacingAndGlyphs">SAR</text>
<text x="503" y="459.8" fill="#c2c5cc" font-size="12" font-family="'Liberation Sans','Noto Sans CJK SC',sans-serif" textLength="19" lengthAdjust="spacingAndGlyphs">KDJ</text>
<text x="532.6" y="459.8" fill="#5b6170" font-size="12" font-family="'Liberation Sans','Noto Sans CJK SC',sans-serif" textLength="23.8" lengthAdjust="spacingAndGlyphs">ROC</text>
<text x="566.7" y="459.8" fill="#5b6170" font-size="12" font-family="'Liberation Sans','Noto Sans CJK SC',sans-serif" textLength="27.7" lengthAdjust="spacingAndGlyphs">MTM</text>
<text x="605" y="459.8" fill="#5b6170" font-size="12" font-family="'Liberation Sans','Noto Sans CJK SC',sans-serif" textLength="28.8" lengthAdjust="spacingAndGlyphs">BOLL</text>
<text x="644.2" y="459.8" fill="#5b6170" font-size="12" font-family="'Liberation Sans','Noto Sans CJK SC',sans-serif" textLength="20.3" lengthAdjust="spacingAndGlyphs">PSY</text>
<text x="675.4" y="459.8" fill="#5b6170" font-size="12" font-family="'Liberation Sans','Noto Sans CJK SC',sans-serif" textLength="47.4" lengthAdjust="spacingAndGlyphs">StochRSI</text>
<text x="733.8" y="459.8" fill="#5b6170" font-size="12" font-family="'Liberation Sans','Noto Sans CJK SC',sans-serif" textLength="20" lengthAdjust="spacingAndGlyphs">SMI</text>
<text x="764.5" y="459.8" fill="#5b6170" font-size="12" font-family="'Liberation Sans','Noto Sans CJK SC',sans-serif" textLength="18" lengthAdjust="spacingAndGlyphs">CCI</text>
<text x="793.2" y="459.8" fill="#5b6170" font-size="12" font-family="'Liberation Sans','Noto Sans CJK SC',sans-serif" textLength="19" lengthAdjust="spacingAndGlyphs">MFI</text>
<text x="823" y="459.8" fill="#5b6170" font-size="12" font-family="'Liberation Sans','Noto Sans CJK SC',sans-serif" textLength="21" lengthAdjust="spacingAndGlyphs">ATR</text>
<text x="855.6" y="459.8" fill="#5b6170" font-size="12" font-family="'Liberation Sans','Noto Sans CJK SC',sans-serif" textLength="25.4" lengthAdjust="spacingAndGlyphs">BBW</text>
<text x="891.7" y="459.8" fill="#5b6170" font-size="12" font-family="'Liberation Sans','Noto Sans CJK SC',sans-serif" textLength="25.3" lengthAdjust="spacingAndGlyphs">SKDJ</text>
<text x="927.7" y="459.8" fill="#5b6170" font-size="12" font-family="'Liberation Sans','Noto Sans CJK SC',sans-serif" textLength="24.7" lengthAdjust="spacingAndGlyphs">BIAS</text>
<text x="962.7" y="459.8" fill="#5b6170" font-size="12" font-family="'Liberation Sans','Noto Sans CJK SC',sans-serif" textLength="24.3" lengthAdjust="spacingAndGlyphs">DPO</text>
<text x="997.7" y="459.8" fill="#5b6170" font-size="12" font-family="'Liberation Sans','Noto Sans CJK SC',sans-serif" textLength="16" lengthAdjust="spacingAndGlyphs">AO</text>
<text x="10.3" y="561.8" fill="#5b6170" font-size="12" font-family="'Liberation Sans','Noto Sans CJK SC',sans-serif" textLength="17.7" lengthAdjust="spacingAndGlyphs">MA</text>
<text x="39" y="561.8" fill="#5b6170" font-size="12" font-family="'Liberation Sans','Noto Sans CJK SC',sans-serif" textLength="24.4" lengthAdjust="spacingAndGlyphs">EMA</text>
<text x="73.4" y="561.8" fill="#5b6170" font-size="12" font-family="'Liberation Sans','Noto Sans CJK SC',sans-serif" textLength="48.8" lengthAdjust="spacingAndGlyphs">VOLUME</text>
<text x="132.8" y="561.8" fill="#c2c5cc" font-size="12" font-family="'Liberation Sans','Noto Sans CJK SC',sans-serif" textLength="34.1" lengthAdjust="spacingAndGlyphs">MACD</text>
<text x="177.6" y="561.8" fill="#5b6170" font-size="12" font-family="'Liberation Sans','Noto Sans CJK SC',sans-serif" textLength="22" lengthAdjust="spacingAndGlyphs">DMI</text>
<text x="211" y="561.8" fill="#5b6170" font-size="12" font-family="'Liberation Sans','Noto Sans CJK SC',sans-serif" textLength="26.3" lengthAdjust="spacingAndGlyphs">DMA</text>
<text x="247.3" y="561.8" fill="#5b6170" font-size="12" font-family="'Liberation Sans','Noto Sans CJK SC',sans-serif" textLength="24.7" lengthAdjust="spacingAndGlyphs">TRIX</text>
<text x="282" y="561.8" fill="#5b6170" font-size="12" font-family="'Liberation Sans','Noto Sans CJK SC',sans-serif" textLength="30" lengthAdjust="spacingAndGlyphs">BRAR</text>
<text x="321.4" y="561.8" fill="#5b6170" font-size="12" font-family="'Liberation Sans','Noto Sans CJK SC',sans-serif" textLength="14" lengthAdjust="spacingAndGlyphs">VR</text>
<text x="346.3" y="561.8" fill="#5b6170" font-size="12" font-family="'Liberation Sans','Noto Sans CJK SC',sans-serif" textLength="24.4" lengthAdjust="spacingAndGlyphs">OBV</text>
<text x="381.4" y="561.8" fill="#5b6170" font-size="12" font-family="'Liberation Sans','Noto Sans CJK SC',sans-serif" textLength="24" lengthAdjust="spacingAndGlyphs">EMV</text>
<text x="416" y="561.8" fill="#4285f4" font-size="12" font-family="'Liberation Sans','Noto Sans CJK SC',sans-serif" textLength="16" lengthAdjust="spacingAndGlyphs">RSI</text>
<text x="442.5" y="561.8" fill="#5b6170" font-size="12" font-family="'Liberation Sans','Noto Sans CJK SC',sans-serif" textLength="18.3" lengthAdjust="spacingAndGlyphs">WR</text>
<text x="471" y="561.8" fill="#5b6170" font-size="12" font-family="'Liberation Sans','Noto Sans CJK SC',sans-serif" textLength="21.9" lengthAdjust="spacingAndGlyphs">SAR</text>
<text x="503" y="561.8" fill="#c2c5cc" font-size="12" font-family="'Liberation Sans','Noto Sans CJK SC',sans-serif" textLength="19" lengthAdjust="spacingAndGlyphs">KDJ</text>
<text x="532.6" y="561.8" fill="#5b6170" font-size="12" font-family="'Liberation Sans','Noto Sans CJK SC',sans-serif" textLength="23.8" lengthAdjust="spacingAndGlyphs">ROC</text>
<text x="566.7" y="561.8" fill="#5b6170" font-size="12" font-family="'Liberation Sans','Noto Sans CJK SC',sans-serif" textLength="27.7" lengthAdjust="spacingAndGlyphs">MTM</text>
<text x="605" y="561.8" fill="#5b6170" font-size="12" font-family="'Liberation Sans','Noto Sans CJK SC',sans-serif" textLength="28.8" lengthAdjust="spacingAndGlyphs">BOLL</text>
<text x="644.2" y="561.8" fill="#5b6170" font-size="12" font-family="'Liberation Sans','Noto Sans CJK SC',sans-serif" textLength="20.3" lengthAdjust="spacingAndGlyphs">PSY</text>
<text x="675.4" y="561.8" fill="#5b6170" font-size="12" font-family="'Liberation Sans','Noto Sans CJK SC',sans-serif" textLength="47.4" lengthAdjust="spacingAndGlyphs">StochRSI</text>
<text x="733.8" y="561.8" fill="#5b6170" font-size="12" font-family="'Liberation Sans','Noto Sans CJK SC',sans-serif" textLength="20" lengthAdjust="spacingAndGlyphs">SMI</text>
<text x="764.5" y="561.8" fill="#5b6170" font-size="12" font-family="'Liberation Sans','Noto Sans CJK SC',sans-serif" textLength="18" lengthAdjust="spacingAndGlyphs">CCI</text>
<text x="793.2" y="561.8" fill="#5b6170" font-size="12" font-family="'Liberation Sans','Noto Sans CJK SC',sans-serif" textLength="19" lengthAdjust="spacingAndGlyphs">MFI</text>
<text x="823" y="561.8" fill="#5b6170" font-size="12" font-family="'Liberation Sans','Noto Sans CJK SC',sans-serif" textLength="21" lengthAdjust="spacingAndGlyphs">ATR</text>
<text x="855.6" y="561.8" fill="#5b6170" font-size="12" font-family="'Liberation Sans','Noto Sans CJK SC',sans-serif" textLength="25.4" lengthAdjust="spacingAndGlyphs">BBW</text>
<text x="891.7" y="561.8" fill="#5b6170" font-size="12" font-family="'Liberation Sans','Noto Sans CJK SC',sans-serif" textLength="25.3" lengthAdjust="spacingAndGlyphs">SKDJ</text>
<text x="927.7" y="561.8" fill="#5b6170" font-size="12" font-family="'Liberation Sans','Noto Sans CJK SC',sans-serif" textLength="24.7" lengthAdjust="spacingAndGlyphs">BIAS</text>
<text x="962.7" y="561.8" fill="#5b6170" font-size="12" font-family="'Liberation Sans','Noto Sans CJK SC',sans-serif" textLength="24.3" lengthAdjust="spacingAndGlyphs">DPO</text>
<text x="997.7" y="561.8" fill="#5b6170" font-size="12" font-family="'Liberation Sans','Noto Sans CJK SC',sans-serif" textLength="16" lengthAdjust="spacingAndGlyphs">AO</text>
<text x="10.3" y="664.8" fill="#5b6170" font-size="12" font-family="'Liberation Sans','Noto Sans CJK SC',sans-serif" textLength="17.7" lengthAdjust="spacingAndGlyphs">MA</text>
<text x="39" y="664.8" fill="#5b6170" font-size="12" font-family="'Liberation Sans','Noto Sans CJK SC',sans-serif" textLength="24.4" lengthAdjust="spacingAndGlyphs">EMA</text>
<text x="73.4" y="664.8" fill="#5b6170" font-size="12" font-family="'Liberation Sans','Noto Sans CJK SC',sans-serif" textLength="48.8" lengthAdjust="spacingAndGlyphs">VOLUME</text>
<text x="132.8" y="664.8" fill="#c2c5cc" font-size="12" font-family="'Liberation Sans','Noto Sans CJK SC',sans-serif" textLength="34.1" lengthAdjust="spacingAndGlyphs">MACD</text>
<text x="177.6" y="664.8" fill="#5b6170" font-size="12" font-family="'Liberation Sans','Noto Sans CJK SC',sans-serif" textLength="22" lengthAdjust="spacingAndGlyphs">DMI</text>
<text x="211" y="664.8" fill="#5b6170" font-size="12" font-family="'Liberation Sans','Noto Sans CJK SC',sans-serif" textLength="26.3" lengthAdjust="spacingAndGlyphs">DMA</text>
<text x="247.3" y="664.8" fill="#5b6170" font-size="12" font-family="'Liberation Sans','Noto Sans CJK SC',sans-serif" textLength="24.7" lengthAdjust="spacingAndGlyphs">TRIX</text>
<text x="282" y="664.8" fill="#5b6170" font-size="12" font-family="'Liberation Sans','Noto Sans CJK SC',sans-serif" textLength="30" lengthAdjust="spacingAndGlyphs">BRAR</text>
<text x="321.4" y="664.8" fill="#5b6170" font-size="12" font-family="'Liberation Sans','Noto Sans CJK SC',sans-serif" textLength="14" lengthAdjust="spacingAndGlyphs">VR</text>
<text x="346.3" y="664.8" fill="#5b6170" font-size="12" font-family="'Liberation Sans','Noto Sans CJK SC',sans-serif" textLength="24.4" lengthAdjust="spacingAndGlyphs">OBV</text>
<text x="381.4" y="664.8" fill="#5b6170" font-size="12" font-family="'Liberation Sans','Noto Sans CJK SC',sans-serif" textLength="24" lengthAdjust="spacingAndGlyphs">EMV</text>
<text x="416" y="664.8" fill="#c2c5cc" font-size="12" font-family="'Liberation Sans','Noto Sans CJK SC',sans-serif" textLength="16" lengthAdjust="spacingAndGlyphs">RSI</text>
<text x="442.5" y="664.8" fill="#5b6170" font-size="12" font-family="'Liberation Sans','Noto Sans CJK SC',sans-serif" textLength="18.3" lengthAdjust="spacingAndGlyphs">WR</text>
<text x="471" y="664.8" fill="#5b6170" font-size="12" font-family="'Liberation Sans','Noto Sans CJK SC',sans-serif" textLength="21.9" lengthAdjust="spacingAndGlyphs">SAR</text>
<text x="503" y="664.8" fill="#4285f4" font-size="12" font-family="'Liberation Sans','Noto Sans CJK SC',sans-serif" textLength="19" lengthAdjust="spacingAndGlyphs">KDJ</text>
<text x="532.6" y="664.8" fill="#5b6170" font-size="12" font-family="'Liberation Sans','Noto Sans CJK SC',sans-serif" textLength="23.8" lengthAdjust="spacingAndGlyphs">ROC</text>
<text x="566.7" y="664.8" fill="#5b6170" font-size="12" font-family="'Liberation Sans','Noto Sans CJK SC',sans-serif" textLength="27.7" lengthAdjust="spacingAndGlyphs">MTM</text>
<text x="605" y="664.8" fill="#5b6170" font-size="12" font-family="'Liberation Sans','Noto Sans CJK SC',sans-serif" textLength="28.8" lengthAdjust="spacingAndGlyphs">BOLL</text>
<text x="644.2" y="664.8" fill="#5b6170" font-size="12" font-family="'Liberation Sans','Noto Sans CJK SC',sans-serif" textLength="20.3" lengthAdjust="spacingAndGlyphs">PSY</text>
<text x="675.4" y="664.8" fill="#5b6170" font-size="12" font-family="'Liberation Sans','Noto Sans CJK SC',sans-serif" textLength="47.4" lengthAdjust="spacingAndGlyphs">StochRSI</text>
<text x="733.8" y="664.8" fill="#5b6170" font-size="12" font-family="'Liberation Sans','Noto Sans CJK SC',sans-serif" textLength="20" lengthAdjust="spacingAndGlyphs">SMI</text>
<text x="764.5" y="664.8" fill="#5b6170" font-size="12" font-family="'Liberation Sans','Noto Sans CJK SC',sans-serif" textLength="18" lengthAdjust="spacingAndGlyphs">CCI</text>
<text x="793.2" y="664.8" fill="#5b6170" font-size="12" font-family="'Liberation Sans','Noto Sans CJK SC',sans-serif" textLength="19" lengthAdjust="spacingAndGlyphs">MFI</text>
<text x="823" y="664.8" fill="#5b6170" font-size="12" font-family="'Liberation Sans','Noto Sans CJK SC',sans-serif" textLength="21" lengthAdjust="spacingAndGlyphs">ATR</text>
<text x="855.6" y="664.8" fill="#5b6170" font-size="12" font-family="'Liberation Sans','Noto Sans CJK SC',sans-serif" textLength="25.4" lengthAdjust="spacingAndGlyphs">BBW</text>
<text x="891.7" y="664.8" fill="#5b6170" font-size="12" font-family="'Liberation Sans','Noto Sans CJK SC',sans-serif" textLength="25.3" lengthAdjust="spacingAndGlyphs">SKDJ</text>
<text x="927.7" y="664.8" fill="#5b6170" font-size="12" font-family="'Liberation Sans','Noto Sans CJK SC',sans-serif" textLength="24.7" lengthAdjust="spacingAndGlyphs">BIAS</text>
<text x="962.7" y="664.8" fill="#5b6170" font-size="12" font-family="'Liberation Sans','Noto Sans CJK SC',sans-serif" textLength="24.3" lengthAdjust="spacingAndGlyphs">DPO</text>
<text x="997.7" y="664.8" fill="#5b6170" font-size="12" font-family="'Liberation Sans','Noto Sans CJK SC',sans-serif" textLength="16" lengthAdjust="spacingAndGlyphs">AO</text>
</svg>
</body></html>
